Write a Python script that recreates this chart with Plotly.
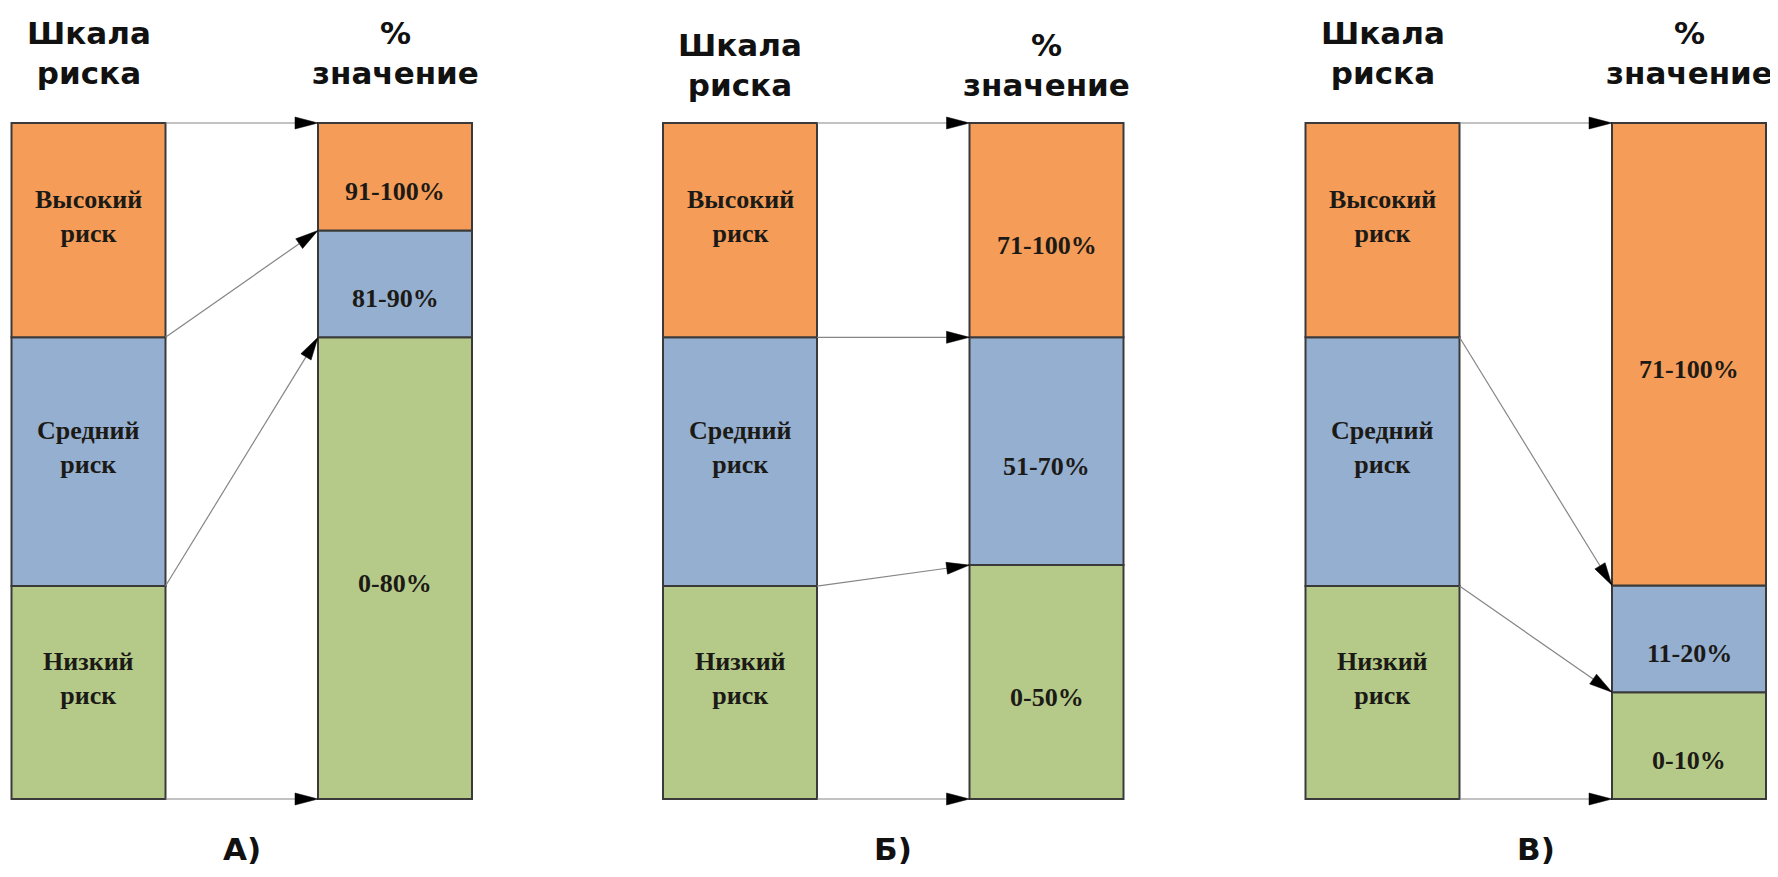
import plotly.graph_objects as go

# ---------------- data ----------------
levels = ["Низкий риск", "Средний риск", "Высокий риск"]
left_labels = ["Низкий<br>риск", "Средний<br>риск", "Высокий<br>риск"]
# relative heights of the zones (bottom -> top), column height = 100
left_scale = [31.5, 36.8, 31.7]
right_A = [68.3, 15.8, 15.9]
right_B = [34.6, 33.7, 31.7]
right_V = [15.8, 15.8, 68.4]
labels_A = ["0-80%", "81-90%", "91-100%"]
labels_B = ["0-50%", "51-70%", "71-100%"]
labels_V = ["0-10%", "11-20%", "71-100%"]
panel_names = ["А)", "Б)", "В)"]
header_left = "Шкала<br>риска"
header_right = "%<br>значение"
colors = ["#B5CA88", "#95AFD0", "#F59D58"]

# ---------------- layout constants ----------------
W, H = 1778, 877
OFF = 8             # page body margin of the html page
Y0 = 799.0          # screen pixel row of column bottom
S = 6.76            # pixels per unit
col_x = [88.5, 395, 740, 1046.5, 1382.5, 1689]
bar_w = 154
header_y_px = [53, 65, 53]
label_y_px = 849

columns = [left_scale, right_A, left_scale, right_B, left_scale, right_V]
col_labels = [left_labels, labels_A, left_labels, labels_B, left_labels, labels_V]


def to_px(v):
    return Y0 - v * S


def to_data(py):
    return (Y0 - py) / S


def paper_y(py):
    return 1 - (py - OFF) / H


fig = go.Figure()

# stacked columns
for i, lev in enumerate(levels):
    ys, bases = [], []
    for col in columns:
        ys.append(col[i])
        bases.append(sum(col[:i]))
    fig.add_trace(go.Bar(
        x=col_x, y=ys, base=bases, width=[bar_w] * len(col_x),
        marker=dict(color=colors[i], line=dict(color="#3a3a3a", width=2)),
        name=lev, showlegend=False, hoverinfo="skip"))

annotations = []
# labels inside the columns
for c, (col, labs) in enumerate(zip(columns, col_labels)):
    is_left = c % 2 == 0
    for i, h in enumerate(col):
        mid = sum(col[:i]) + h / 2
        annotations.append(dict(
            x=col_x[c], y=mid, xref="x", yref="y", text="<b>%s</b>" % labs[i],
            showarrow=False, yshift=14 if is_left else -15,
            font=dict(family="Liberation Serif, Times New Roman, serif", size=26, color="#1c1a16")))

# headers and panel names
for p in range(3):
    lx, rx = col_x[2 * p], col_x[2 * p + 1]
    for x, t in ((lx, header_left), (rx, header_right)):
        annotations.append(dict(
            x=x, y=paper_y(header_y_px[p]), xref="x", yref="paper", text="<b>%s</b>" % t,
            showarrow=False, yanchor="middle",
            font=dict(family="DejaVu Sans, Arial, sans-serif", size=31, color="#111111")))
    annotations.append(dict(
        x=(lx + rx) / 2, y=paper_y(label_y_px), xref="x", yref="paper",
        text="<b>%s</b>" % panel_names[p], showarrow=False, yanchor="middle",
        font=dict(family="DejaVu Sans, Arial, sans-serif", size=31, color="#111111")))

# connecting arrows: each zone boundary of the risk scale -> same boundary of the % column
HEAD_LEN, HEAD_HALF = 23.0, 6.0
for p in range(3):
    lcol, rcol = columns[2 * p], columns[2 * p + 1]
    x0 = col_x[2 * p] + bar_w / 2
    x1 = col_x[2 * p + 1] - bar_w / 2
    for k in range(len(lcol) + 1):
        y0p = to_px(sum(lcol[:k]))
        y1p = to_px(sum(rcol[:k]))
        dx, dy = x1 - x0, y1p - y0p
        L = (dx * dx + dy * dy) ** 0.5
        ux, uy = dx / L, dy / L
        bx, by = x1 - HEAD_LEN * ux, y1p - HEAD_LEN * uy
        nx, ny = -uy, ux
        fig.add_trace(go.Scatter(
            x=[x0, bx], y=[to_data(y0p), to_data(by)], mode="lines",
            line=dict(color="#858585", width=1.2), showlegend=False, hoverinfo="skip"))
        tri_x = [x1, bx + HEAD_HALF * nx, bx - HEAD_HALF * nx, x1]
        tri_y = [to_data(y1p), to_data(by + HEAD_HALF * ny), to_data(by - HEAD_HALF * ny), to_data(y1p)]
        fig.add_trace(go.Scatter(
            x=tri_x, y=tri_y, mode="lines", fill="toself", fillcolor="#000000",
            line=dict(color="#000000", width=0.5), showlegend=False, hoverinfo="skip"))

fig.update_layout(
    width=W, height=H, margin=dict(l=0, r=0, t=0, b=0),
    paper_bgcolor="white", plot_bgcolor="white",
    barmode="overlay", annotations=annotations,
    xaxis=dict(range=[OFF, W + OFF], visible=False, fixedrange=True),
    yaxis=dict(range=[to_data(H + OFF), to_data(OFF)], visible=False, fixedrange=True),
)

fig.write_html("out.html")
